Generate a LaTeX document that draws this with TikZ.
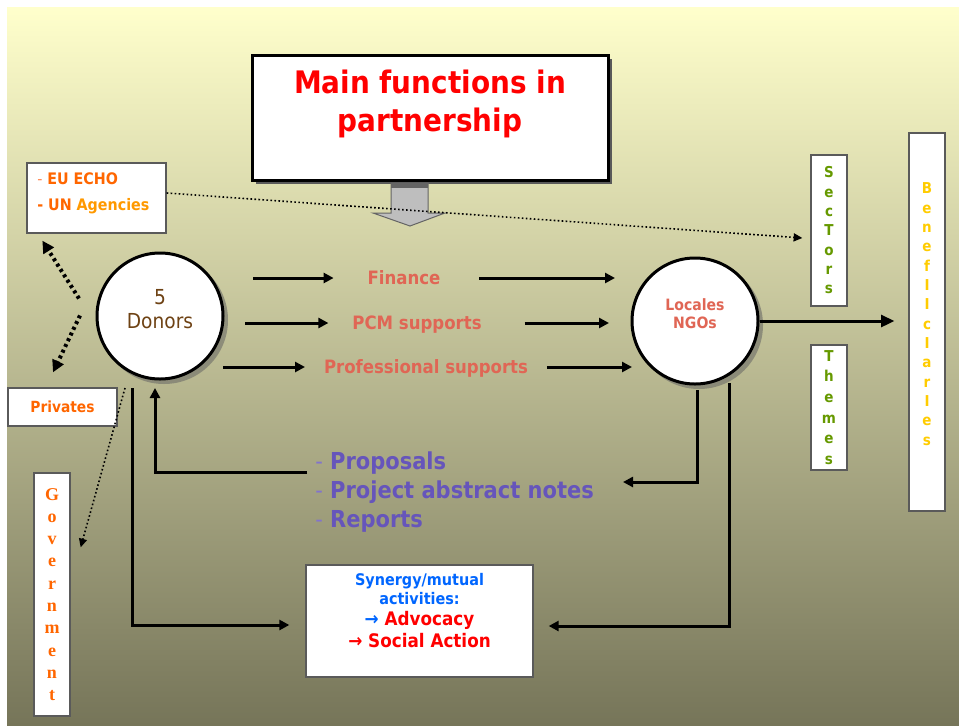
\documentclass[tikz,border=0pt]{standalone}
\usepackage{fontspec}
\setmainfont{DejaVu Sans}[FakeStretch=0.9]
\newfontfamily\govfont{Liberation Serif}
\usetikzlibrary{arrows.meta,calc}

\definecolor{bgtop}{RGB}{255,255,204}
\definecolor{bgmid}{RGB}{203,203,163}
\definecolor{bgbot}{RGB}{118,117,89}
\definecolor{boxedge}{RGB}{90,90,90}
\definecolor{titlered}{RGB}{255,0,0}
\definecolor{echoorange}{RGB}{255,102,0}
\definecolor{agencyorange}{RGB}{255,153,0}
\definecolor{dashorange}{RGB}{255,140,90}
\definecolor{salmon}{RGB}{224,102,85}
\definecolor{donbrown}{RGB}{110,66,20}
\definecolor{secgreen}{RGB}{102,153,0}
\definecolor{benefyellow}{RGB}{255,204,0}
\definecolor{docpurple}{RGB}{102,85,187}
\definecolor{docdash}{RGB}{130,115,205}
\definecolor{synblue}{RGB}{0,102,255}
\definecolor{arrowgray}{RGB}{190,190,190}
\definecolor{arrowedge}{RGB}{100,100,100}
\definecolor{shadowgray}{RGB}{120,120,110}

\tikzset{
  plainbox/.style={draw=boxedge, line width=1pt, fill=white, inner sep=0pt},
  flow/.style={line width=2.25pt, -{Triangle[length=7.5pt,width=7.5pt]}},
  bigflow/.style={line width=2.25pt, -{Triangle[length=10pt,width=9pt]}},
  thindot/.style={line width=1.2pt, dash pattern=on 1.2pt off 1.8pt, -{Triangle[length=6.5pt,width=6pt]}},
  thickdot/.style={line width=3pt, dash pattern=on 2.25pt off 2.5pt, -{Triangle[length=9pt,width=9pt]}},
  partner/.style={circle, draw, line width=2.25pt, fill=white, minimum size=94.5pt, inner sep=0pt, outer sep=0pt},
  flowlabel/.style={inner sep=0pt, outer sep=0pt, text height=10pt, text depth=0pt, text=salmon, font=\bfseries\fontsize{13.8}{16}\selectfont},
  lettercol/.style={align=center, font=\bfseries\fontsize{11.25}{14.5}\selectfont},
}

\begin{document}
\begin{tikzpicture}[x=0.75pt,y=0.75pt,yscale=-1,xscale=1]
\useasboundingbox (0,0) rectangle (959,725);
%Background
\fill [white] (0,0) rectangle (959,725);
\shade [top color=bgtop, middle color=bgmid, bottom color=bgbot] (7,7) rectangle (959,725);

%Shadows
\fill [black!65] (256,59) rectangle (612,184);
\fill [shadowgray, opacity=0.7] (164,320) circle (48pt);
\fill [shadowgray, opacity=0.7] (699,325) circle (48pt);

%Shape: Title box
\node [plainbox] [draw=black, line width=2.25pt, minimum width=267pt, minimum height=93.75pt] (title) at (430,117.5) {};
% Text Node
\node [align=center] [text=titlered, font=\bfseries\fontsize{23.25}{28.5}\selectfont] (titletext) at (430,104) {Main functions in\\partnership};
%Shape: Down arrow
\draw [fill=arrowgray, draw=arrowedge, line width=0.75pt] (391,183) -- (428,183) -- (428,213) -- (445,213) -- (410,226) -- (373,213) -- (391,213) -- cycle ;
\fill [arrowedge] (391,183) rectangle (428,188) ;

%Shape: Funders box
\node [plainbox, minimum width=104.25pt, minimum height=52.5pt] (echo) at (96.5,198) {};
% Text Node
\node [anchor=west] [inner sep=0pt, align=left, text=echoorange, font=\bfseries\fontsize{11.9}{19.5}\selectfont] (echotext) at (37,193) {{\mdseries\color{dashorange}-} EU ECHO\\- UN {\color{agencyorange}Agencies}};

%Shape: Sectors, Themes, Beneficiaries
\node [plainbox, lettercol, minimum width=27pt, minimum height=113.25pt, text=secgreen] (sectors) at (829,230.5) {S\\e\\c\\T\\o\\r\\s};
\node [plainbox, lettercol, minimum width=27pt, minimum height=93.75pt, text=secgreen, font=\bfseries\fontsize{11.25}{15.5}\selectfont] (themes) at (829,407.5) {T\\h\\e\\m\\e\\s};
\node [plainbox, minimum width=27pt, minimum height=283.5pt] (benef) at (927,322) {};
% Text Node
\node [lettercol, text=benefyellow] (beneftext) at (927,314) {B\\e\\n\\e\\f\\I\\I\\c\\I\\a\\r\\I\\e\\s};

%Shape: Government, Privates
\node [plainbox, minimum width=27pt, minimum height=182.25pt, align=center, text=echoorange, font=\govfont\bfseries\fontsize{13.5}{16.7}\selectfont] (gov) at (52,594.5) {G\\o\\v\\e\\r\\n\\m\\e\\n\\t};
\node [plainbox, minimum width=81.75pt, minimum height=28.5pt, text=echoorange, font=\bfseries\fontsize{11.5}{14}\selectfont] (privates) at (62.5,407) {Privates};

%Shape: Circles
\node [partner] (don) at (160,316) {};
% Text Node
\node [align=center, text=donbrown, font=\fontsize{15.5}{18}\selectfont] (dontext) at (160,309) {5\\Donors};
\node [partner] (ngo) at (695,321) {};
% Text Node
\node [align=center, text=salmon, font=\bfseries\fontsize{11.7}{13.5}\selectfont] (ngotext) at (695,313.5) {Locales\\NGOs};

% Text Node
\node [flowlabel] (fin) at (404,278) {Finance};
% Text Node
\node [flowlabel] (pcm) at (417,323) {PCM supports};
% Text Node
\node [flowlabel] (prof) at (426,367) {Professional supports};

%Straight Lines
\draw [flow, shorten <=22.5pt, shorten >=25.5pt] (don.east |- fin) -- (fin.west);
\draw [flow, shorten <=29.25pt, shorten >=12.75pt] (fin.east) -- (ngo.west |- fin);
\draw [flow, shorten <=16.5pt, shorten >=18pt] (don.east |- pcm) -- (pcm.west);
\draw [flow, shorten <=32.25pt, shorten >=17.25pt] (pcm.east) -- (ngo.west |- pcm);
\draw [flow, shorten >=14.25pt] (don.east |- prof) -- (prof.west);
\draw [flow, shorten <=14.25pt] (prof.east) -- (ngo.west |- prof);
\draw [bigflow, shorten <=1.5pt, shorten >=10.5pt] (ngo.east) -- (benef.west |- ngo.east);

% Text Node
\node [anchor=west] [inner sep=0pt, align=left, text=docpurple, font=\bfseries\fontsize{17.5}{21.75}\selectfont] (docs) at (315,492) {{\mdseries\color{docdash}-} Proposals\\{\mdseries\color{docdash}-} Project abstract notes\\{\mdseries\color{docdash}-} Reports};

%Shape: Synergy box
\node [plainbox, minimum width=170.25pt, minimum height=84pt] (syn) at (419.5,621) {};
% Text Node
\node [align=center] [text=synblue, font=\bfseries\fontsize{12}{14.25}\selectfont] (syntext) at (419.5,611) {Synergy/mutual\\activities:\\[1.5pt]{\fontsize{14}{16}\selectfont → {\color{titlered}Advocacy}}\\[2.25pt]{\fontsize{14}{16}\selectfont\color{titlered}→ Social Action}};

%Elbow Lines
\draw [flow] ($(docs.west)+(-8,-20)$) -| ($(don.south)+(-5,9)$);
\draw [flow] ($(ngo.south)+(2,6)$) |- ($(docs.west)+(308,-10)$);
\draw [flow] ($(ngo.south)+(34,-1)$) |- ($(syn.east)+(15,5)$);
\draw [flow] ($(don.south)+(-28,9)$) |- ($(syn.west)+(-16,4)$);

%Dotted Lines
\coordinate (hub) at (80,306.5);
\draw [thickdot] ($(hub)+(-1,-8)$) -- ($(echo.south west)+(16,7)$);
\draw [thickdot] ($(hub)+(0,9)$) -- ($(privates.north)+(-9.5,-15)$);
\draw [thindot] ($(don.south)+(-35,9)$) -- ($(gov.north east)+(10,75)$);
\draw [thindot] ($(echo.east)+(0,-5)$) -- ($(sectors.west)+(-8,7.5)$);
\end{tikzpicture}
\end{document}
